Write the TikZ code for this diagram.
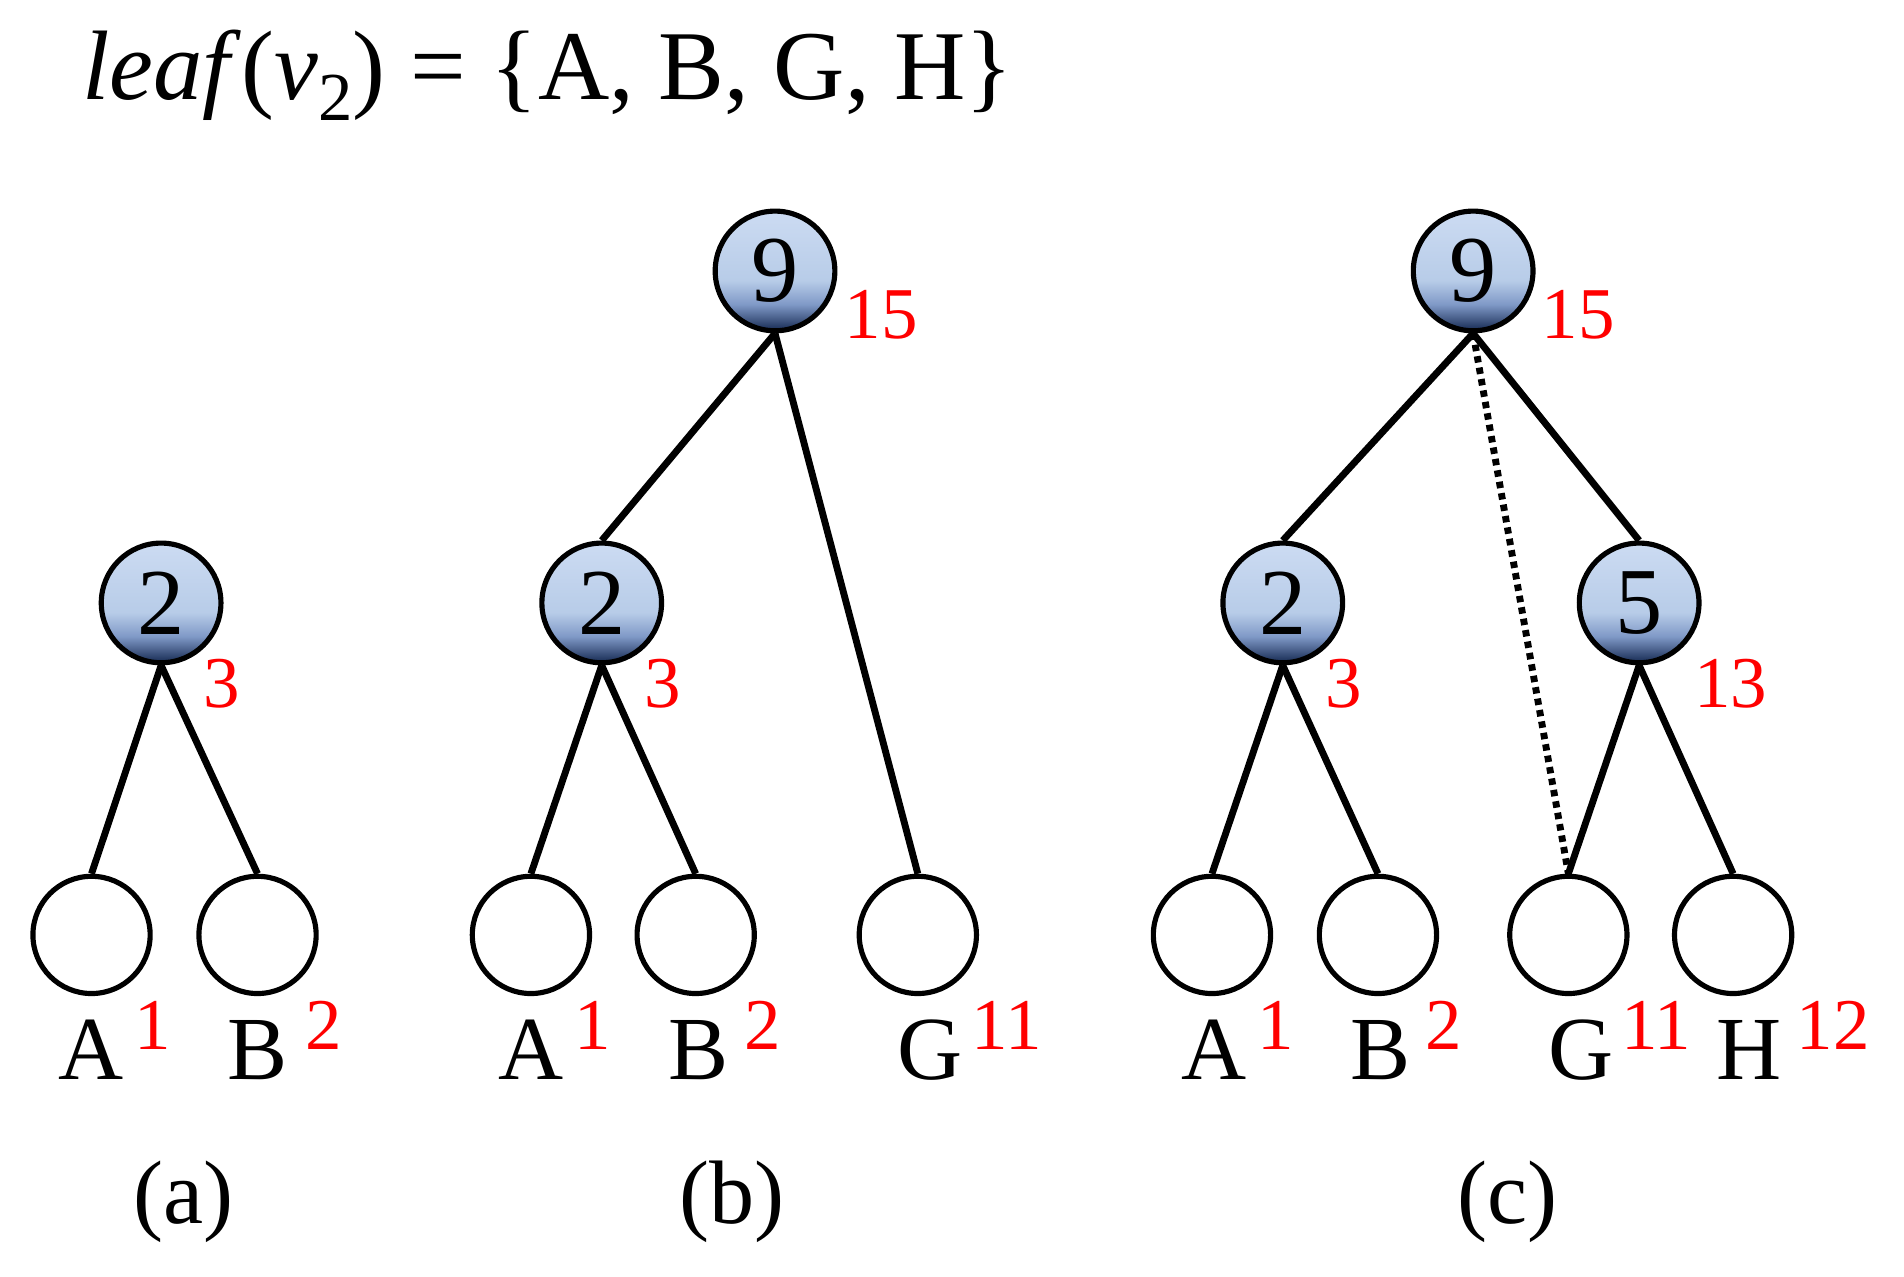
\documentclass[tikz,border=0pt]{standalone}
\usepackage{fontspec}
\setmainfont{Liberation Serif}
\pgfdeclareverticalshading{nodeshade}{100bp}{
 rgb(0bp)=(0.12,0.2,0.36);
 rgb(26bp)=(0.12,0.2,0.36);
 rgb(36bp)=(0.5,0.6,0.78);
 rgb(46bp)=(0.72,0.8,0.91);
 rgb(75bp)=(0.8,0.86,0.95);
 rgb(100bp)=(0.8,0.86,0.95)}
\begin{document}
\begin{tikzpicture}[x=0.01cm,y=-0.01cm,
 inner/.style={circle,draw,line width=1.2pt,minimum size=0.98cm,inner sep=0pt,shading=nodeshade,font=\fontsize{22}{22}\selectfont},
 leaf/.style={circle,draw,line width=1.2pt,minimum size=0.96cm,inner sep=0pt,fill=white},
 lab/.style={font=\fontsize{21}{21}\selectfont},
 red/.style={text=red,font=\fontsize{17}{17}\selectfont},
 edge/.style={line width=1.6pt}]
\useasboundingbox (0,0) rectangle (1560,1046);
\node[anchor=west,font=\fontsize{23}{23}\selectfont] (t) at (55,62) {\textit{leaf}(\textit{v}\raisebox{-0.45ex}{\fontsize{16}{16}\selectfont 2}) = \{A, B, G, H\}};
% (a)
\node[inner] (a2) at (132,494) {2};
\node[leaf] (aA) at (75,766) {};
\node[leaf] (aB) at (211,766) {};
\draw[edge] (a2.south) -- (aA.north); \draw[edge] (a2.south) -- (aB.north);
\node[red] (ar3) at (182,560) {3};
\node[lab] (aAl) at (75,860) {A}; \node[lab] (aBl) at (211,860) {B};
\node[red] (ar1) at (125,840) {1}; \node[red] (ar2) at (265,840) {2};
\node[lab] (ca) at (150,985) {(a)};
% (b)
\node[inner] (b9) at (635,222) {9};
\node[inner] (b2) at (493,494) {2};
\node[leaf] (bA) at (435,766) {};
\node[leaf] (bB) at (570,766) {};
\node[leaf] (bG) at (752,766) {};
\draw[edge] (b9.south) -- (b2.north); \draw[edge] (b9.south) -- (bG.north);
\draw[edge] (b2.south) -- (bA.north); \draw[edge] (b2.south) -- (bB.north);
\node[red] (br15) at (722,258) {15}; \node[red] (br3) at (543,560) {3};
\node[lab] (bAl) at (435,860) {A}; \node[lab] (bBl) at (572,860) {B}; \node[lab] (bGl) at (762,860) {G};
\node[red] (br1) at (486,840) {1}; \node[red] (br2) at (625,840) {2}; \node[red] (br11) at (825,840) {11};
\node[lab] (cb) at (600,985) {(b)};
% (c)
\node[inner] (c9) at (1207,222) {9};
\node[inner] (c2) at (1051,494) {2};
\node[inner] (c5) at (1343,494) {5};
\node[leaf] (cA) at (993,766) {};
\node[leaf] (cB) at (1129,766) {};
\node[leaf] (cG) at (1285,766) {};
\node[leaf] (cH) at (1420,766) {};
\draw[edge] (c9.south) -- (c2.north); \draw[edge] (c9.south) -- (c5.north);
\draw[edge] (c2.south) -- (cA.north); \draw[edge] (c2.south) -- (cB.north);
\draw[edge] (c5.south) -- (cG.north); \draw[edge] (c5.south) -- (cH.north);
\draw[line width=1.6pt,dash pattern=on 1.5pt off 1.2pt] (c9.south) -- (cG.north);
\node[red] (cr15) at (1293,258) {15}; \node[red] (cr3) at (1101,560) {3}; \node[red] (cr13) at (1418,560) {13};
\node[lab] (cAl) at (995,860) {A}; \node[lab] (cBl) at (1131,860) {B}; \node[lab] (cGl) at (1295,860) {G}; \node[lab] (cHl) at (1433,860) {H};
\node[red] (cr1) at (1045,840) {1}; \node[red] (cr2) at (1183,840) {2}; \node[red] (cr11) at (1357,840) {11}; \node[red] (cr12) at (1502,840) {12};
\node[lab] (cc) at (1235,985) {(c)};
\end{tikzpicture}
\end{document}
